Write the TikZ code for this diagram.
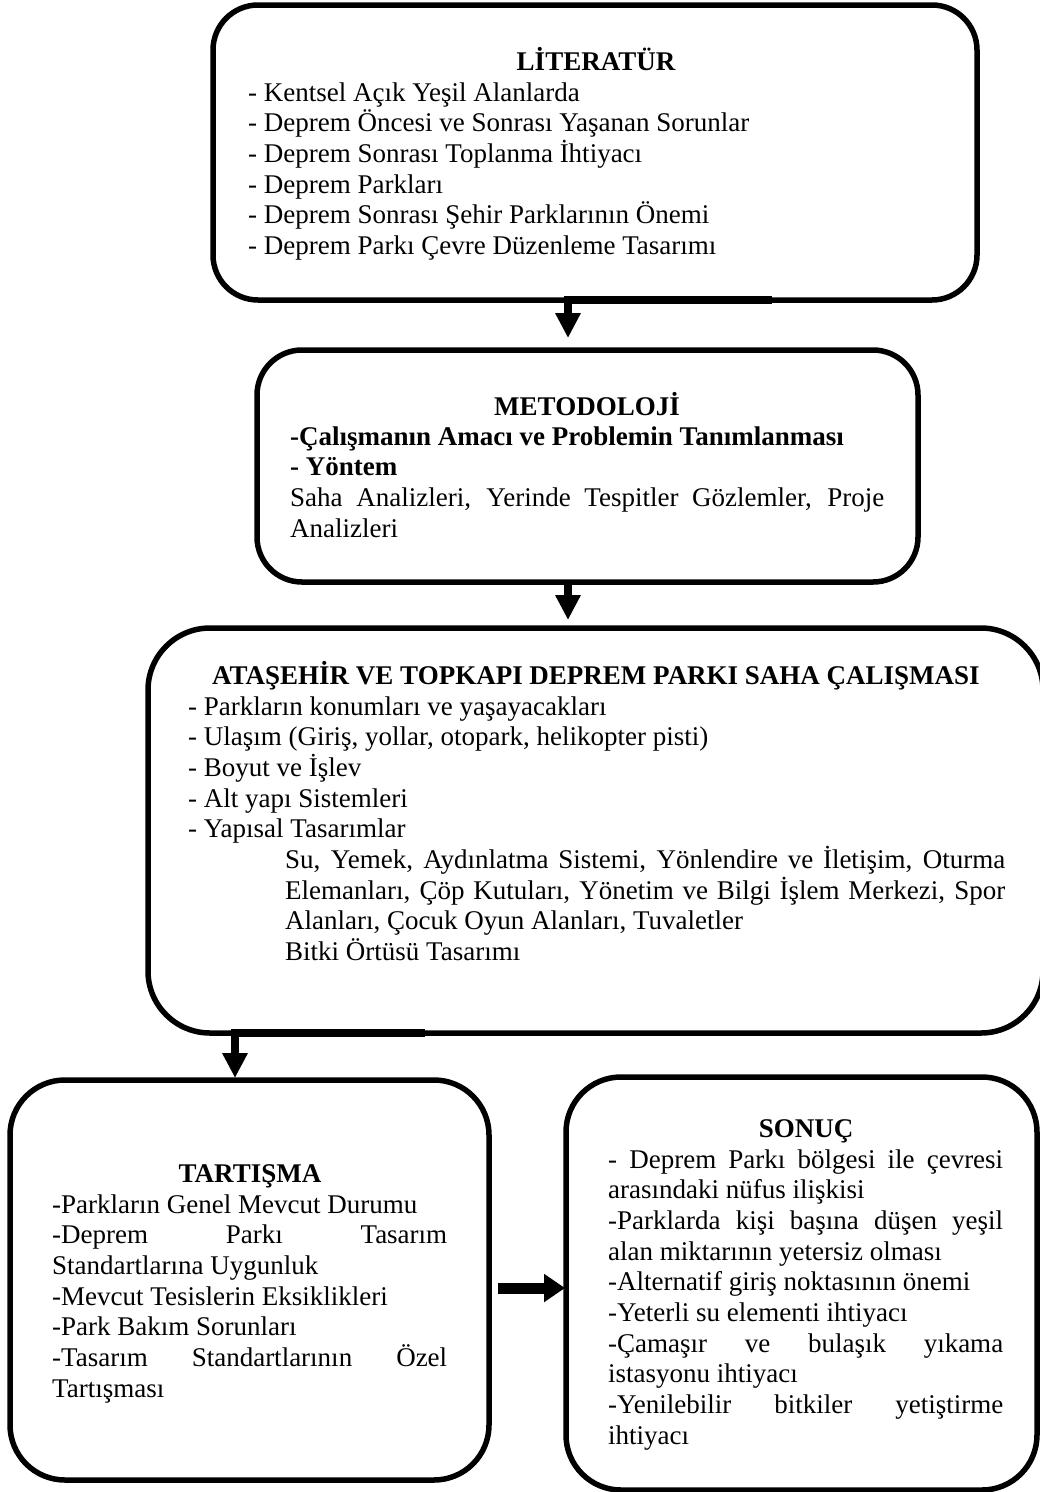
\documentclass[tikz,border=0pt]{standalone}
\usepackage{fontspec}
\setmainfont{Liberation Serif}
\usetikzlibrary{arrows.meta,calc}
\newcommand\jline[2]{\hbox to #1{#2}}
\begin{document}
\begin{tikzpicture}[x=1pt,y=-1pt,
  box/.style={draw, line width=5.5pt, rounded corners=#1, inner sep=0pt, outer sep=0pt},
  conn/.style={line width=8pt, -{Triangle[width=24pt,length=25pt]}},
  conntwo/.style={line width=11pt, -{Triangle[width=27pt,length=21pt]}},
  txt/.style={anchor=base west, inner sep=0pt, font=\fontsize{27}{30.7}\selectfont},
  ttl/.style={anchor=base, inner sep=0pt, font=\fontsize{27}{30.7}\selectfont\bfseries}]
\useasboundingbox (0,0) rectangle (1040,1492);
% boxes
\node[box=45pt, minimum width=764pt, minimum height=295pt] (lit) at (595,152.5) {};
\node[box=45pt, minimum width=661pt, minimum height=232pt] (met) at (587.5,466) {};
\node[box=62pt, minimum width=895pt, minimum height=405pt] (saha) at (595.5,830.5) {};
\node[box=55pt, minimum width=479pt, minimum height=400pt] (tar) at (249.5,1280) {};
\node[box=55pt, minimum width=471pt, minimum height=413pt] (son) at (801.5,1283.5) {};
% box 1
\node[ttl] (litH) at (596,70) {LİTERATÜR};
\node[txt] (litT) at (248,101) {\vtop{%
\hbox{- Kentsel Açık Yeşil Alanlarda}
\hbox{- Deprem Öncesi ve Sonrası Yaşanan Sorunlar}
\hbox{- Deprem Sonrası Toplanma İhtiyacı}
\hbox{- Deprem Parkları}
\hbox{- Deprem Sonrası Şehir Parklarının Önemi}
\hbox{- Deprem Parkı Çevre Düzenleme Tasarımı}}};
% box 2
\node[ttl] (metH) at (587,415) {METODOLOJİ};
\node[txt] (metT) at (290,445) {\vtop{%
\hbox{\bfseries -Çalışmanın Amacı ve Problemin Tanımlanması}
\hbox{\bfseries - Yöntem}
\jline{594pt}{Saha Analizleri, Yerinde Tespitler Gözlemler, Proje}
\hbox{Analizleri}}};
% box 3
\node[ttl] (sahaH) at (596,684) {ATAŞEHİR VE TOPKAPI DEPREM PARKI SAHA ÇALIŞMASI};
\node[txt] (sahaT) at (188,715) {\vtop{%
\hbox{- Parkların konumları ve yaşayacakları}
\hbox{- Ulaşım (Giriş, yollar, otopark, helikopter pisti)}
\hbox{- Boyut ve İşlev}
\hbox{- Alt yapı Sistemleri}
\hbox{- Yapısal Tasarımlar}
\hbox{\hskip97pt\jline{720pt}{Su, Yemek, Aydınlatma Sistemi, Yönlendire ve İletişim, Oturma}}
\hbox{\hskip97pt\jline{720pt}{Elemanları, Çöp Kutuları, Yönetim ve Bilgi İşlem Merkezi, Spor}}
\hbox{\hskip97pt Alanları, Çocuk Oyun Alanları, Tuvaletler}
\hbox{\hskip97pt Bitki Örtüsü Tasarımı}}};
% box 4
\node[ttl] (tarH) at (250,1182) {TARTIŞMA};
\node[txt] (tarT) at (52,1213) {\vtop{%
\hbox{-Parkların Genel Mevcut Durumu}
\jline{395pt}{-Deprem Parkı Tasarım}
\hbox{Standartlarına Uygunluk}
\hbox{-Mevcut Tesislerin Eksiklikleri}
\hbox{-Park Bakım Sorunları}
\jline{395pt}{-Tasarım Standartlarının Özel}
\hbox{Tartışması}}};
% box 5
\node[ttl] (sonH) at (806,1137) {SONUÇ};
\node[txt] (sonT) at (608,1168) {\vtop{%
\jline{395pt}{- Deprem Parkı bölgesi ile çevresi}
\hbox{arasındaki nüfus ilişkisi}
\jline{395pt}{-Parklarda kişi başına düşen yeşil}
\hbox{alan miktarının yetersiz olması}
\hbox{-Alternatif giriş noktasının önemi}
\hbox{-Yeterli su elementi ihtiyacı}
\jline{395pt}{-Çamaşır ve bulaşık yıkama}
\hbox{istasyonu ihtiyacı}
\jline{395pt}{-Yenilebilir bitkiler yetiştirme}
\hbox{ihtiyacı}}};
% connectors
\coordinate (t1) at (772,300);
\draw[conn] (t1) -| ([xshift=-19.5pt, yshift=12pt]met.north);
\draw[conn] ([xshift=-19.5pt]met.south) -- ([xshift=-27.5pt, yshift=8pt]saha.north);
\coordinate (t3) at (425,1033);
\draw[conn] (t3) -| ([xshift=-14.5pt, yshift=2pt]tar.north);
\draw[conntwo] ($(tar.east)+(9,8)$) -- ($(son.west)+(-1,4.5)$);
\end{tikzpicture}
\end{document}
